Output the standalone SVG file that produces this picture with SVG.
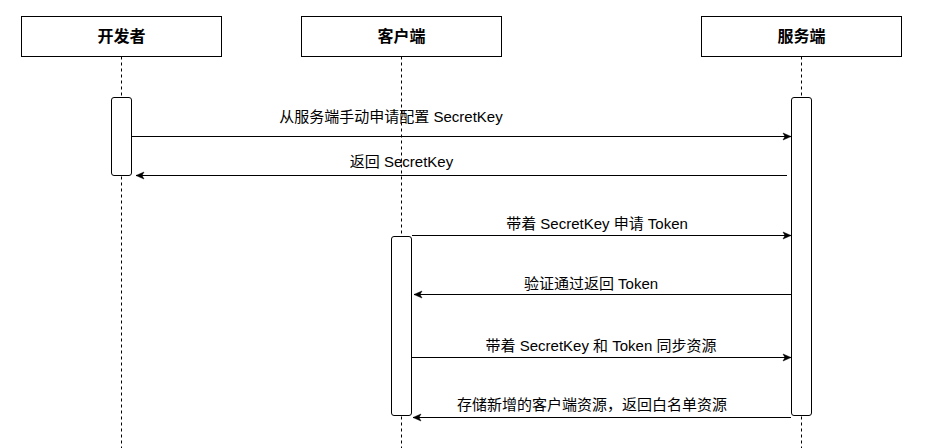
<svg xmlns="http://www.w3.org/2000/svg" width="929" height="448" viewBox="0 0 929 448">
<style>
.box{fill:#fff;stroke:#000;stroke-width:1}
.head{font-family:"Liberation Sans","Noto Sans CJK SC",sans-serif;font-size:16px;font-weight:bold;fill:#000;text-anchor:middle}
.life{stroke:#000;stroke-width:1;stroke-dasharray:3 3;fill:none}
.act{fill:#fff;stroke:#000;stroke-width:1}
.msg{stroke:#000;stroke-width:1;fill:none;marker-end:url(#arr)}
.lbl{font-family:"Liberation Sans","Noto Sans CJK SC",sans-serif;font-size:15px;fill:#000;text-anchor:middle}
</style>
<defs>
<marker id="arr" markerUnits="userSpaceOnUse" markerWidth="10" markerHeight="10" viewBox="0 0 10 10" refX="9" refY="5" orient="auto">
<path d="M1,1.5 L9,5 L1,8.5 L3,5 z" fill="#000" stroke="#000" stroke-width="0.5"/>
</marker>
</defs>
<rect width="929" height="448" fill="#fff"/>
<g id="lifelines">
<line class="life" x1="121.5" y1="56.5" x2="121.5" y2="448"/>
<line class="life" x1="401.5" y1="56.5" x2="401.5" y2="448"/>
<line class="life" x1="801.5" y1="56.5" x2="801.5" y2="448"/>
</g>
<g id="node-developer">
<rect class="box" x="21.5" y="16.5" width="200" height="40"/>
<text class="head" x="121.5" y="42">开发者</text>
</g>
<g id="node-client">
<rect class="box" x="301.5" y="16.5" width="200" height="40"/>
<text class="head" x="401.5" y="42">客户端</text>
</g>
<g id="node-server">
<rect class="box" x="701.5" y="16.5" width="200" height="40"/>
<text class="head" x="801.5" y="42">服务端</text>
</g>
<g id="activation-developer">
<rect class="act" x="111.5" y="97.5" width="20" height="78" rx="2.5"/>
</g>
<g id="activation-server">
<rect class="act" x="791.5" y="97.5" width="20" height="318" rx="2.5"/>
</g>
<g id="activation-client">
<rect class="act" x="391.5" y="236.5" width="20" height="179" rx="2.5"/>
</g>
<g id="connectors">
<line class="msg" x1="132" y1="136.5" x2="791" y2="136.5"/>
<line class="msg" x1="787" y1="175.5" x2="136" y2="175.5"/>
<line class="msg" x1="412" y1="235.5" x2="791" y2="235.5"/>
<line class="msg" x1="791" y1="294.5" x2="414" y2="294.5"/>
<line class="msg" x1="412" y1="357.5" x2="791" y2="357.5"/>
<line class="msg" x1="791" y1="417.5" x2="413" y2="417.5"/>
<text class="lbl" x="391" y="121.5">从服务端手动申请配置 SecretKey</text>
<text class="lbl" x="401.5" y="166.5">返回 SecretKey</text>
<text class="lbl" x="597" y="228.5">带着 SecretKey 申请 Token</text>
<text class="lbl" x="591" y="288.5">验证通过返回 Token</text>
<text class="lbl" x="601" y="350.5">带着 SecretKey 和 Token 同步资源</text>
<text class="lbl" x="592" y="409.5">存储新增的客户端资源，返回白名单资源</text>
</g>
</svg>
